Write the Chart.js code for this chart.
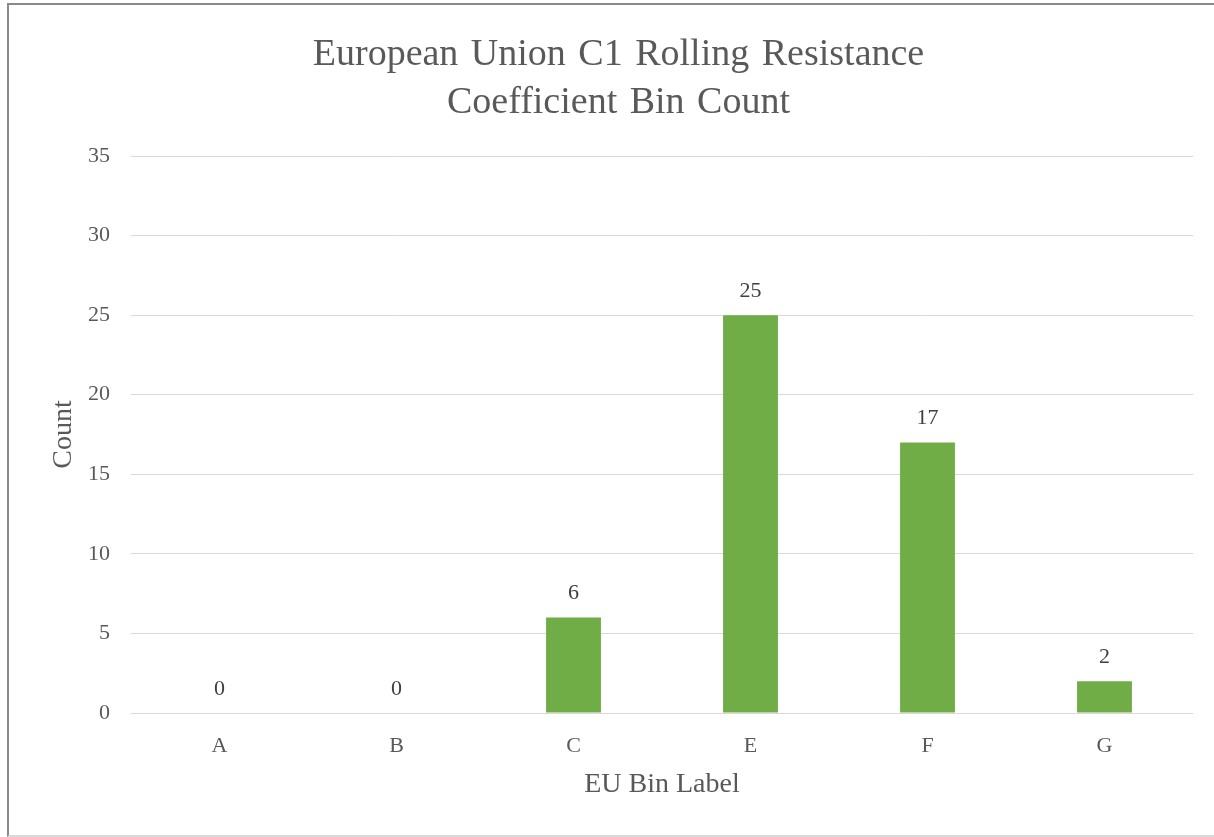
<!DOCTYPE html>
<html>
<head>
<meta charset="utf-8">
<script src="https://cdn.jsdelivr.net/npm/chart.js@4/dist/chart.umd.min.js"></script>
<style>
  html, body { margin: 0; padding: 0; background: #ffffff; overflow: hidden; width: 1214px; height: 837px; }
  #frame {
    position: absolute; left: 7px; top: 3px;
    width: 1219px; height: 830px;
    border-left: 2px solid #8a8a8a; border-top: 2px solid #8a8a8a; border-bottom: 2px solid #d9d9d9;
    background: #ffffff;
  }
  #wrap { position: absolute; left: 0; top: 0; width: 1219px; height: 830px; }
</style>
</head>
<body>
<div id="frame"><div id="wrap"><canvas id="c" width="1219" height="830"></canvas></div></div>
<script>
// ---- data ----
const categories = ["A", "B", "C", "E", "F", "G"];
const counts = [0, 0, 6, 25, 17, 2];
const yTicks = [0, 5, 10, 15, 20, 25, 30, 35];
const titleLines = ["European Union C1 Rolling Resistance", "Coefficient Bin Count"];
const xTitle = "EU Bin Label";
const yTitle = "Count";

const FONT = "'Liberation Serif', 'Times New Roman', serif";
const TXT = "#595959";

// chart title (drawn as canvas text, with Word-like word spacing)
const chartTitle = {
  id: "chartTitle",
  afterDraw(chart) {
    const ctx = chart.ctx;
    ctx.save();
    ctx.font = "38px " + FONT;
    ctx.fillStyle = TXT;
    ctx.textAlign = "center";
    ctx.textBaseline = "alphabetic";
    try { ctx.wordSpacing = "3px"; } catch (e) {}
    const cx = chart.width / 2;
    const baselines = [60, 108];
    titleLines.forEach((t, i) => ctx.fillText(t, cx, baselines[i]));
    ctx.restore();
  }
};

const valueLabels = {
  id: "valueLabels",
  afterDatasetsDraw(chart) {
    const ctx = chart.ctx;
    const meta = chart.getDatasetMeta(0);
    ctx.save();
    ctx.font = "22px " + FONT;
    ctx.fillStyle = "#404040";
    ctx.textAlign = "center";
    ctx.textBaseline = "middle";
    meta.data.forEach((bar, i) => {
      ctx.fillText(String(counts[i]), bar.x, bar.y - 24);
    });
    ctx.restore();
  }
};

new Chart(document.getElementById("c"), {
  type: "bar",
  data: {
    labels: categories,
    datasets: [{
      data: counts,
      backgroundColor: "#70AD47",
      borderWidth: 0,
      categoryPercentage: 1.0,
      barPercentage: 0.31
    }]
  },
  options: {
    responsive: false,
    animation: false,
    events: [],
    layout: { padding: { left: 0, right: 35, top: 151, bottom: 0 } },
    plugins: {
      legend: { display: false },
      tooltip: { enabled: false },
      title: { display: false }
    },
    scales: {
      x: {
        grid: { display: false, drawTicks: false },
        border: { display: false },
        ticks: { color: TXT, font: { family: FONT, size: 22 }, padding: 20 },
        title: {
          display: true, text: xTitle, color: TXT,
          font: { family: FONT, size: 28, lineHeight: 1.2 },
          padding: { top: 0, bottom: 34 }
        },
        afterFit(scale) { scale.height = 122; }
      },
      y: {
        min: 0, max: 35,
        afterBuildTicks(scale) { scale.ticks = yTicks.map(v => ({ value: v })); },
        grid: { color: "#d9d9d9", lineWidth: 1, drawTicks: false },
        border: { display: false },
        ticks: { color: TXT, font: { family: FONT, size: 22 }, padding: 21 },
        title: {
          display: true, text: yTitle, color: TXT,
          font: { family: FONT, size: 28, lineHeight: 1.2 },
          padding: { top: 38, bottom: 0 }
        },
        afterFit(scale) { scale.width = 122; }
      }
    }
  },
  plugins: [valueLabels, chartTitle]
});
</script>
</body>
</html>
